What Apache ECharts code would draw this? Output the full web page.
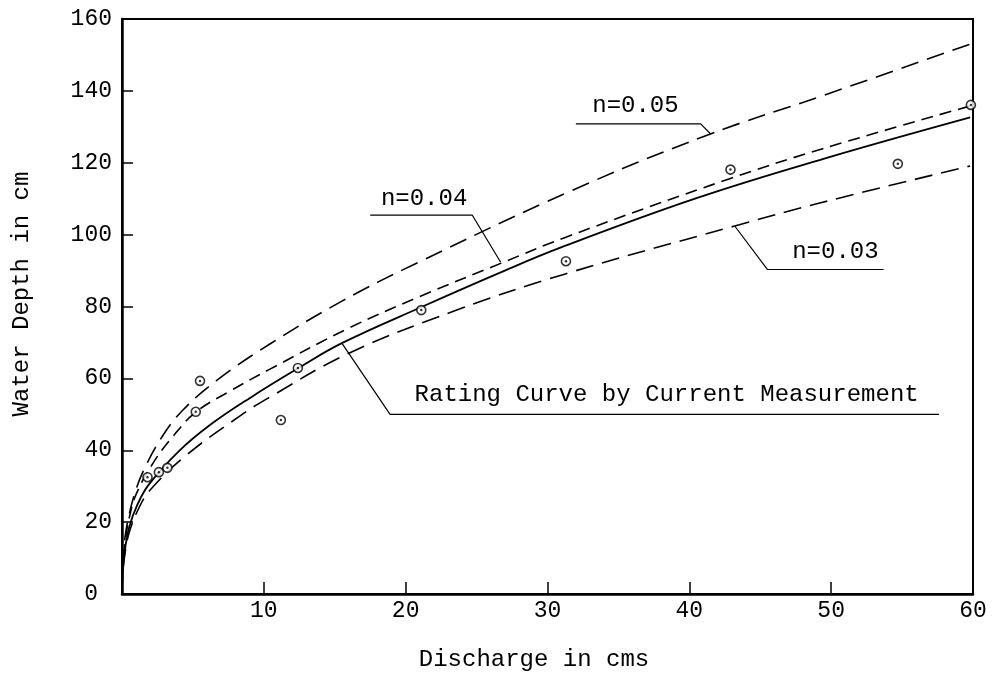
<!DOCTYPE html>
<html>
<head>
<meta charset="utf-8">
<script src="https://cdn.jsdelivr.net/npm/echarts@6/dist/echarts.min.js"></script>
<style>
  html, body { margin: 0; padding: 0; background: #fff; }
  #chart { width: 997px; height: 679px; }
</style>
</head>
<body>
<div id="chart"></div>
<script>
// Current-meter gaugings: discharge (cms) and water depth (cm)
const measuredQ = [1.8, 2.6, 3.2, 5.2, 5.5, 11.2, 12.4, 21.1, 31.3, 42.9, 54.7, 59.85];
const measuredH = [32.5, 33.9, 35.1, 50.7, 59.3, 48.4, 62.9, 79.0, 92.6, 118.1, 119.7, 136.1];

// Rating curve by current measurement
const ratingQ = [0, 0.05, 0.2, 0.5, 1.1, 1.9, 4.0, 6.2, 9.0, 12.5, 15.5, 21.2, 26.7, 31.0, 40.4, 49.4, 59.8];
const ratingH = [0, 6, 12, 18.5, 25, 30.5, 39.7, 47, 54.5, 63, 69.8, 80, 89.5, 96.5, 110, 121, 132.6];

// Manning rating curves for three roughness coefficients
const n03Q = [0, 0.05, 0.2, 0.5, 1.2, 2.0, 4.5, 8.3, 10.3, 16.0, 23.6, 31.2, 43.2, 49.4, 59.8];
const n03H = [0, 5.5, 11, 17, 24, 29, 38.5, 49.5, 54.5, 67, 79, 89, 102.4, 109, 119.1];

const n04Q = [0, 0.05, 0.2, 0.5, 1.0, 2.2, 3.6, 5.2, 7.5, 10.4, 16.0, 21.0, 26.7, 31.3, 42.8, 49.4, 59.8];
const n04H = [0, 7, 14, 21, 27.8, 36.5, 43.9, 50.6, 56.2, 62.5, 74, 82.8, 92, 99.3, 115.5, 123.9, 135.8];

const n05Q = [0, 0.05, 0.2, 0.5, 0.9, 1.5, 2.85, 4.3, 6.7, 10.4, 15.6, 20.8, 31.5, 41.2, 49.5, 59.8];
const n05H = [0, 8, 15.5, 22, 28, 34.2, 43.9, 51.2, 59.5, 69.5, 81.7, 92.1, 111.9, 127.6, 138.8, 153];

// Axis ranges and tick steps
const xTicks = [0, 10, 20, 30, 40, 50, 60];
const yTicks = [0, 20, 40, 60, 80, 100, 120, 140, 160];

// Curve labels, anchored in data units (discharge, depth)
const labelText = ['n=0.05', 'n=0.04', 'n=0.03', 'Rating Curve by Current Measurement'];
const labelAt = [[36.2, 136.0], [21.3, 109.9], [50.3, 95.4], [38.4, 55.5]];
const leaderQ = [[32.0, 40.8, 41.5], [17.5, 24.7, 26.7], [43.2, 45.5, 53.7], [15.5, 18.9, 57.6]];
const leaderH = [[130.8, 130.8, 128.0], [105.4, 105.4, 92.3], [102.4, 90.3, 90.3], [69.8, 50.0, 50.0]];

const FONT = "'Liberation Mono', 'Courier New', monospace";
const INK = '#000';

const zip = (a, b) => a.map((v, i) => [v, b[i]]);

const chart = echarts.init(document.getElementById('chart'));

function curve(name, q, h, dash, width) {
  return {
    name, type: 'line', data: zip(q, h), smooth: 0.4,
    symbol: 'none', silent: true, z: 3,
    lineStyle: { color: INK, width: width, type: dash }
  };
}

const leaderSeries = leaderQ.map((q, i) => ({
  type: 'line', data: zip(q, leaderH[i]), symbol: 'none', silent: true, z: 2,
  lineStyle: { color: INK, width: 1.2 }
}));

chart.setOption({
  animation: false,
  backgroundColor: '#fff',
  grid: {
    left: 122, right: 24, top: 19, bottom: 85,
    show: true, borderColor: INK, borderWidth: 2,
    outerBoundsMode: 'none'
  },
  xAxis: {
    type: 'value', min: xTicks[0], max: xTicks[xTicks.length - 1], interval: 10,
    axisLine: { show: true, lineStyle: { color: INK, width: 2.5 } },
    axisTick: { show: true, inside: true, length: 12, lineStyle: { color: INK, width: 1.5 } },
    splitLine: { show: false },
    axisLabel: {
      color: INK, fontFamily: FONT, fontSize: 23, margin: 5,
      formatter: v => (v === 0 ? '' : String(v))
    }
  },
  yAxis: {
    type: 'value', min: yTicks[0], max: yTicks[yTicks.length - 1], interval: 20,
    axisLine: { show: true, lineStyle: { color: INK, width: 2.5 } },
    axisTick: { show: true, inside: true, length: 11, lineStyle: { color: INK, width: 1.5 } },
    splitLine: { show: false },
    axisLabel: {
      color: INK, fontFamily: FONT, fontSize: 23, margin: 10,
      formatter: v => (v === 0 ? '{zero|0}' : String(v)),
      rich: { zero: { fontFamily: FONT, fontSize: 23, color: INK, padding: [0, 14, 0, 0] } }
    }
  },
  series: [
    curve('Rating Curve by Current Measurement', ratingQ, ratingH, 'solid', 1.8),
    curve('n=0.03', n03Q, n03H, [18, 9], 1.6),
    curve('n=0.04', n04Q, n04H, [12, 7], 1.6),
    curve('n=0.05', n05Q, n05H, [18, 9], 1.6),
    ...leaderSeries,
    {
      name: 'Measured', type: 'scatter', data: zip(measuredQ, measuredH), z: 5,
      symbol: 'circle', symbolSize: 9,
      itemStyle: { color: '#fff', borderColor: INK, borderWidth: 1.6 }
    },
    {
      name: 'Measured centre', type: 'scatter', data: zip(measuredQ, measuredH), z: 6,
      symbol: 'circle', symbolSize: 2.5, silent: true,
      itemStyle: { color: INK }
    }
  ]
});

// Curve labels and axis titles
const graphics = labelText.map((t, i) => {
  const p = chart.convertToPixel({ gridIndex: 0 }, labelAt[i]);
  return {
    type: 'text', x: p[0], y: p[1], z: 10,
    style: { text: t, font: '24px ' + FONT, fill: INK,
             textAlign: 'center', textVerticalAlign: 'middle', align: 'center', verticalAlign: 'middle' }
  };
});
graphics.push({
  type: 'text', x: 534, y: 660, z: 10,
  style: { text: 'Discharge in cms', font: '24px ' + FONT, fill: INK,
           textAlign: 'center', textVerticalAlign: 'middle', align: 'center', verticalAlign: 'middle' }
});
graphics.push({
  type: 'text', x: 22, y: 294, rotation: Math.PI / 2, z: 10,
  style: { text: 'Water Depth in cm', font: '24px ' + FONT, fill: INK,
           textAlign: 'center', textVerticalAlign: 'middle', align: 'center', verticalAlign: 'middle' }
});
chart.setOption({ graphic: graphics });
</script>
</body>
</html>
